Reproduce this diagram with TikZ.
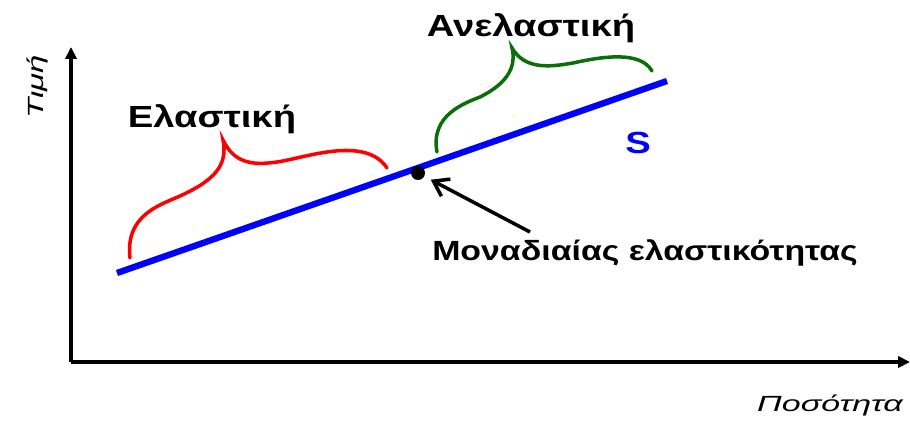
\documentclass[tikz,border=0pt]{standalone}
\usepackage{fontspec}
\usepackage{graphicx}
\setmainfont{Liberation Sans}
\usetikzlibrary{arrows.meta, positioning}
\definecolor{supBlue}{RGB}{0,0,255}
\definecolor{elRed}{RGB}{255,0,0}
\definecolor{inelGreen}{RGB}{10,110,10}

\begin{document}
\begin{tikzpicture}[x=0.02cm, y=-0.02cm, >=Stealth,
    axis/.style={line width=2.5pt, -{Triangle[length=6.8pt,width=6.4pt]}},
    curlybrace/.style={line width=2pt, line cap=round},
    bigLabel/.style={font=\fontsize{17.4}{20}\selectfont\bfseries, anchor=base},
    axisLabel/.style={font=\fontsize{12.5}{15}\selectfont\itshape, anchor=base}]
    \useasboundingbox (0,0) rectangle (910,422);

    \coordinate (O) at (71,362);
    \coordinate (Ytop) at (71,47);
    \coordinate (Xend) at (910,362);

    % axes
    \draw[axis] (O) -- (Ytop);
    \draw[axis] (O) -- (Xend);
    \node[axisLabel, rotate=90] (price) at (43,87) {\scalebox{1.5}[1]{Τιμή}};
    \node[axisLabel] (qty) at (830,412) {\scalebox{1.55}[1]{Ποσότητα}};

    % supply curve
    \coordinate (S0) at (117,273);
    \coordinate (S1) at (667,81);
    \draw[supBlue, line width=3.6pt] (S0) -- (S1);
    \node[bigLabel, text=supBlue] (slabel) at (638,154) {\scalebox{1.25}[1]{S}};

    % unit elasticity point
    \node[circle, fill=black, inner sep=0pt, minimum size=0.28cm] (unit) at (418,173) {};
    \node[font=\fontsize{15.8}{18}\selectfont\bfseries, anchor=base] (unitlabel) at (645,261)
        {\scalebox{1.22}[1]{Μοναδιαίας ελαστικότητας}};
    \coordinate (arrstart) at (530,232);
    \draw[line width=2pt, -{Straight Barb[length=8pt,width=11pt]}, shorten >=4pt] (arrstart) -- (unit);

    % braces
    \draw[curlybrace, elRed] (130,258) .. controls (125,215) and (160,205) .. (180,196)
        .. controls (215,180) and (228,165) .. (223,140)
        .. controls (235,165) and (255,165) .. (277,162)
        .. controls (305,158) and (365,135) .. (387,168);
    \node[bigLabel] (elastic) at (212,128) {\scalebox{1.25}[1]{Ελαστική}};

    \draw[curlybrace, inelGreen] (437,152) .. controls (430,115) and (465,103) .. (480,97)
        .. controls (510,82) and (516,65) .. (512,48)
        .. controls (525,70) and (550,67) .. (573,63)
        .. controls (600,57) and (640,50) .. (652,71);
    \node[bigLabel] (inelastic) at (531,37) {\scalebox{1.25}[1]{Ανελαστική}};
\end{tikzpicture}
\end{document}
